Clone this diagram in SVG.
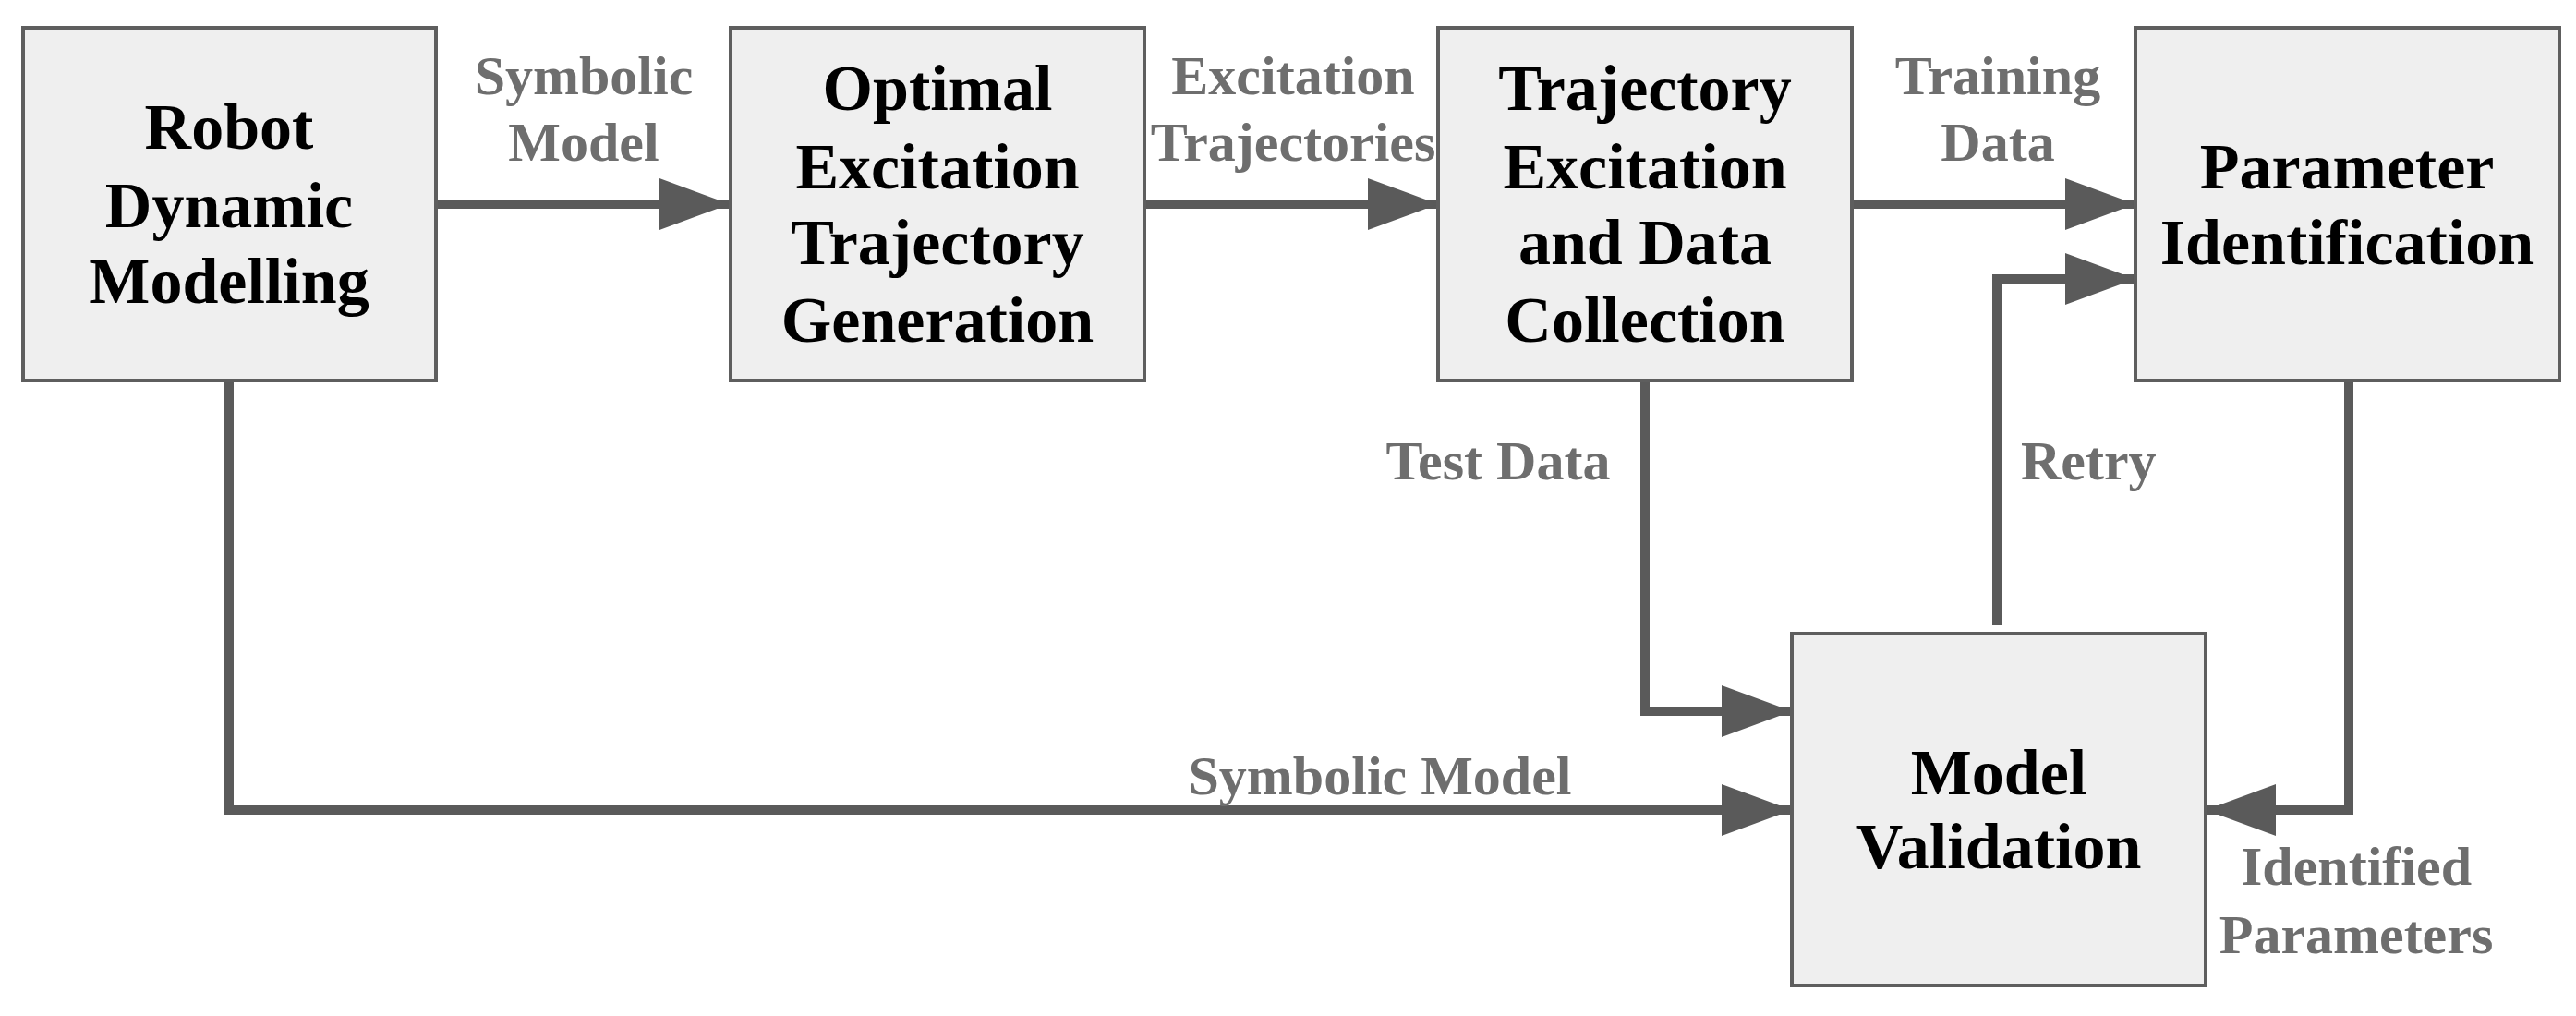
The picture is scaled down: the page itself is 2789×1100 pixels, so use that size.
<svg xmlns="http://www.w3.org/2000/svg" width="2789" height="1100" viewBox="0 0 2789 1100">
<style>
.box{fill:#efefef;stroke:#5e5e5e;stroke-width:4}
.t{font-family:"Liberation Serif",serif;font-weight:bold;font-size:70px;fill:#000;text-anchor:middle}
.l{font-family:"Liberation Serif",serif;font-weight:bold;font-size:60px;fill:#6e6e6e;text-anchor:middle}
.c{fill:none;stroke:#5a5a5a;stroke-width:10}
</style>
<defs>
<marker id="a" markerUnits="userSpaceOnUse" markerWidth="76" markerHeight="56" refX="76" refY="28" orient="auto"><path d="M0,0 L76,28 L0,56 Z" fill="#5a5a5a"/></marker>
</defs>
<g id="connectors">
<path class="c" d="M471,221 H790" marker-end="url(#a)"/>
<path class="c" d="M1239,221 H1557" marker-end="url(#a)"/>
<path class="c" d="M2005,221 H2312" marker-end="url(#a)"/>
<path class="c" d="M2162,677 V302 H2312" marker-end="url(#a)"/>
<path class="c" d="M1781,412 V770 H1940" marker-end="url(#a)"/>
<path class="c" d="M248,412 V877 H1940" marker-end="url(#a)"/>
<path class="c" d="M2543,412 V877 H2388" marker-end="url(#a)"/>
<text class="l" x="632" y="102">Symbolic</text><text class="l" x="632" y="174">Model</text>
<text class="l" x="1400" y="102">Excitation</text><text class="l" x="1400" y="174">Trajectories</text>
<text class="l" x="2163" y="102">Training</text><text class="l" x="2163" y="174">Data</text>
<text class="l" x="1622" y="519">Test Data</text>
<text class="l" x="2188" y="519" style="text-anchor:start">Retry</text>
<text class="l" x="1494" y="860">Symbolic Model</text>
<text class="l" x="2551" y="958">Identified</text><text class="l" x="2551" y="1032">Parameters</text>
</g>
<g id="n1"><rect class="box" x="25" y="30" width="447" height="382"/>
<text class="t" x="248" y="161">Robot</text><text class="t" x="248" y="246">Dynamic</text><text class="t" x="248" y="328">Modelling</text></g>
<g id="n2"><rect class="box" x="791" y="30" width="448" height="382"/>
<text class="t" x="1015" y="119">Optimal</text><text class="t" x="1015" y="204">Excitation</text><text class="t" x="1015" y="286">Trajectory</text><text class="t" x="1015" y="370">Generation</text></g>
<g id="n3"><rect class="box" x="1557" y="30" width="448" height="382"/>
<text class="t" x="1781" y="119">Trajectory</text><text class="t" x="1781" y="204">Excitation</text><text class="t" x="1781" y="286">and Data</text><text class="t" x="1781" y="370">Collection</text></g>
<g id="n4"><rect class="box" x="2312" y="30" width="459" height="382"/>
<text class="t" x="2541" y="204">Parameter</text><text class="t" x="2541" y="286">Identification</text></g>
<g id="n5"><rect class="box" x="1940" y="686" width="448" height="381"/>
<text class="t" x="2164" y="860">Model</text><text class="t" x="2164" y="940">Validation</text></g>
</svg>
